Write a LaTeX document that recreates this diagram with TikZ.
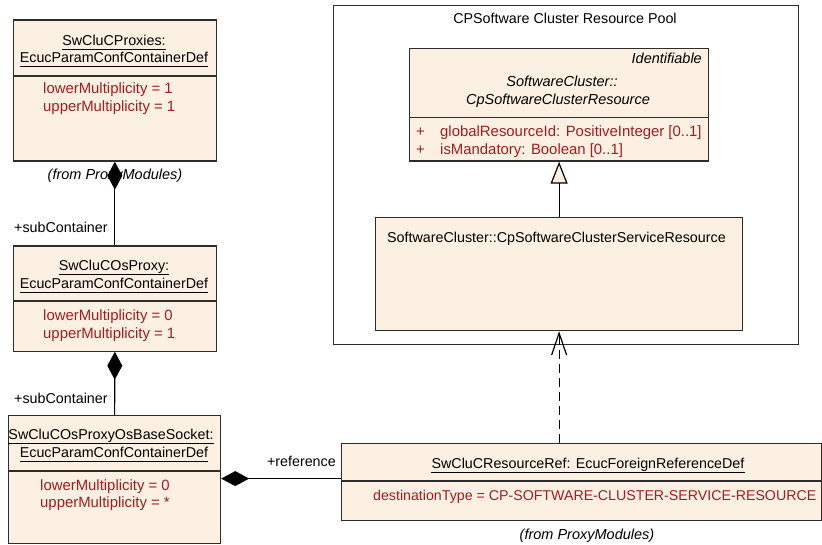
\documentclass[tikz,border=0pt]{standalone}
\usepackage{fontspec}
\setmainfont{Liberation Sans}
\usetikzlibrary{arrows.meta}
\definecolor{boxfill}{RGB}{251,240,225}
\definecolor{attrred}{RGB}{163,28,33}
\definecolor{edge}{RGB}{45,45,45}
\tikzset{
  classbox/.style={draw=edge, line width=1.2pt, fill=boxfill, rectangle, inner sep=0pt, anchor=north west},
  pkgbox/.style={draw=edge, line width=1.2pt, fill=white, rectangle, inner sep=0pt, anchor=north west},
  txt/.style={inner sep=0pt, font=\fontsize{14.3}{18}\selectfont, text=black},
  attr/.style={inner sep=0pt, font=\fontsize{14.9}{18}\selectfont, text=attrred},
  ital/.style={txt, font=\fontsize{14.5}{18}\selectfont\itshape},
  divider/.style={draw=edge, line width=1.2pt},
  uline/.style={draw=black, line width=1pt},
  conn/.style={draw=black, line width=1.2pt},
  compo/.style={conn, -{Diamond[length=28pt,width=15pt,fill=black]}},
  genz/.style={conn, -{Triangle[open,length=22pt,width=17pt,fill=boxfill]}},
  depend/.style={conn, dash pattern=on 9pt off 5pt, -{Straight Barb[length=22pt,width=15pt,line width=1.2pt]}}
}
\newcommand{\ul}[1]{\draw[uline] ([yshift=-4pt]#1.base west) -- ([yshift=-4pt]#1.base east);}
\begin{document}
\begin{tikzpicture}[x=1pt,y=-1pt]
\useasboundingbox (0,0) rectangle (822,545);
\clip (0,0) rectangle (822,545);

% Package
\node[pkgbox, minimum width=465pt, minimum height=339pt] (pkg) at (333,5) {};
\node[txt, anchor=base] (pkgt) at (565,24) {CPSoftware Cluster Resource Pool};

% Box 5
\node[classbox, minimum width=299pt, minimum height=112.5pt] (b5) at (409,48) {};
\draw[divider] (409,117.5) coordinate (b5dl) -- (708,117.5) coordinate (b5dr);
\node[ital, anchor=base east] (b5s) at (702,64) {Identifiable};
\node[ital, anchor=base] (b5t1) at (562,87) {SoftwareCluster::};
\node[ital, anchor=base] (b5t2) at (558,105) {CpSoftwareClusterResource};
\node[attr, anchor=base west] (b5p1) at (416,137) {+};
\node[attr, anchor=base west] (b5a1) at (440,137) {globalResourceId: PositiveInteger [0..1]};
\node[attr, anchor=base west] (b5p2) at (416,155) {+};
\node[attr, anchor=base west] (b5a2) at (440,155) {isMandatory: Boolean [0..1]};

% Box 6
\node[classbox, minimum width=367pt, minimum height=113pt] (b6) at (375,217) {};
\node[txt, anchor=base west] (b6t) at (387,243) {SoftwareCluster::CpSoftwareClusterServiceResource};

% Box 1
\node[classbox, minimum width=203.5pt, minimum height=141pt] (b1) at (12.5,19.5) {};
\draw[divider] (12.5,76) -- (216,76);
\node[txt, anchor=base] (b1t1) at (114,46) {SwCluCProxies:};
\node[txt, anchor=base] (b1t2) at (114,63) {EcucParamConfContainerDef};
\ul{b1t1}\ul{b1t2}
\node[attr, anchor=base west] (b1a1) at (43,94) {lowerMultiplicity = 1};
\node[attr, anchor=base west] (b1a2) at (43,112) {upperMultiplicity = 1};
\node[ital, anchor=base] (b1f) at (115,180) {(from ProxyModules)};

% Box 2
\node[classbox, minimum width=203.5pt, minimum height=105pt] (b2) at (12.5,245.5) {};
\draw[divider] (12.5,301) -- (216,301);
\node[txt, anchor=base] (b2t1) at (114,271) {SwCluCOsProxy:};
\node[txt, anchor=base] (b2t2) at (114,288.5) {EcucParamConfContainerDef};
\ul{b2t1}\ul{b2t2}
\node[attr, anchor=base west] (b2a1) at (43,320) {lowerMultiplicity = 0};
\node[attr, anchor=base west] (b2a2) at (43,338) {upperMultiplicity = 1};
\node[txt, anchor=base west] (l1) at (14,233) {+subContainer};

% Box 3
\node[classbox, minimum width=212pt, minimum height=128pt] (b3) at (8,415) {};
\draw[divider] (8,471) -- (220,471);
\node[txt, anchor=base] (b3t1) at (111,439) {SwCluCOsProxyOsBaseSocket:};
\node[txt, anchor=base] (b3t2) at (114,457) {EcucParamConfContainerDef};
\ul{b3t1}\ul{b3t2}
\node[attr, anchor=base west] (b3a1) at (40,490) {lowerMultiplicity = 0};
\node[attr, anchor=base west] (b3a2) at (40,507.5) {upperMultiplicity = *};
\node[txt, anchor=base west] (l2) at (14,403) {+subContainer};

% Box 4
\node[classbox, minimum width=480pt, minimum height=77pt] (b4) at (341,442.5) {};
\draw[divider] (341,481) -- (821,481);
\node[txt, anchor=base] (b4t) at (588,468) {SwCluCResourceRef: EcucForeignReferenceDef};
\ul{b4t}
\node[attr, anchor=base west, font=\fontsize{14.2}{18}\selectfont] (b4a) at (373,500) {destinationType = CP-SOFTWARE-CLUSTER-SERVICE-RESOURCE};
\node[ital, anchor=base] (b4f) at (587,539) {(from ProxyModules)};
\node[txt, anchor=base east] (l3) at (336,466) {+reference};

% Connectors
\draw[compo] (b2.north) -- (b1.south);
\draw[compo] (b3.north) -- (b2.south);
\draw[compo] ([yshift=3pt]b4.west) -- ([yshift=3pt]b4.west -| b3.east);
\draw[genz] (b6.north) -- (b5.south);
\draw[depend] (b6.south |- b4.north) -- (b6.south);
\end{tikzpicture}
\end{document}
